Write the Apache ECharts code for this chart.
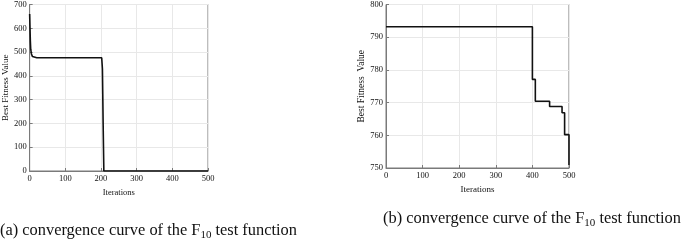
<!DOCTYPE html>
<html><head><meta charset="utf-8">
<script src="https://cdn.jsdelivr.net/npm/echarts@6/dist/echarts.min.js"></script>
<style>html,body{margin:0;padding:0;background:#fff}#c{width:685px;height:241px}</style>
</head><body><div id="c"></div>
<script>
// Left chart (a)
var leftIter = [0, 1, 2, 3, 5, 8, 12, 20, 202, 204, 205, 206, 208, 500];
var leftFit  = [660, 600, 545, 512, 492, 481, 477, 476, 476, 430, 320, 200, 0, 0];
// Right chart (b) - step curve
var rightIter = [0, 400, 408, 447, 481, 488, 500];
var rightFit  = [793.2, 777.1, 770.4, 768.8, 766.9, 760.2, 750.9];
// Axis ticks
var leftXTicks = [0, 100, 200, 300, 400, 500];
var leftYTicks = [0, 100, 200, 300, 400, 500, 600, 700];
var rightYTicks = [750, 760, 770, 780, 790, 800];
var xName = 'Iterations';
var yName = 'Best Fitness Value';
var yNameRight = 'Best Fitness  Value';

function pairs(a, b) { return a.map(function (v, i) { return [v, b[i]]; }); }

var FONT = '"Liberation Serif", "Times New Roman", serif';
var axisCommon = {
  type: 'value',
  axisLine: { show: true, lineStyle: { color: '#7a7a7a', width: 1 } },
  axisTick: { show: true, inside: true, length: 3, lineStyle: { color: '#7a7a7a' } },
  splitLine: { show: true, lineStyle: { color: '#e8e8e8', width: 1 } },
  axisLabel: { fontFamily: FONT, fontSize: 8.5, color: '#111', margin: 3 },
  nameTextStyle: { fontFamily: FONT, color: '#111' }
};
function ax(extra) { return Object.assign({}, JSON.parse(JSON.stringify(axisCommon)), extra); }

var chart = echarts.init(document.getElementById('c'));
var sub = function (fs) {
  return { m: { fontFamily: FONT, fontSize: fs, fill: '#111', lineHeight: 19 },
           s: { fontFamily: FONT, fontSize: 11, fill: '#111', lineHeight: 19, verticalAlign: 'bottom' } };
};
chart.setOption({
  animation: false,
  grid: [
    { left: 21, top: 3, width: 187, height: 168, show: true, borderColor: '#7a7a7a', borderWidth: 1 },
    { left: 386, top: 3, width: 183, height: 165, show: true, borderColor: '#7a7a7a', borderWidth: 1 }
  ],
  xAxis: [
    ax({ gridIndex: 0, min: 0, max: 500, interval: 100, name: xName, nameLocation: 'middle', nameGap: 13,
         nameTextStyle: { fontFamily: FONT, fontSize: 8.5, color: '#111' } }),
    ax({ gridIndex: 1, min: 0, max: 500, interval: 100, name: xName, nameLocation: 'middle', nameGap: 16,
         nameTextStyle: { fontFamily: FONT, fontSize: 9, color: '#111' } })
  ],
  yAxis: [
    ax({ gridIndex: 0, min: 0, max: 700, interval: 100, name: yName, nameLocation: 'middle', nameGap: 14,
         nameTextStyle: { fontFamily: FONT, fontSize: 9, color: '#111' } }),
    ax({ gridIndex: 1, min: 750, max: 800, interval: 10, name: yNameRight, nameLocation: 'middle', nameGap: 18,
         nameTextStyle: { fontFamily: FONT, fontSize: 9.5, color: '#111' } })
  ],
  series: [
    { type: 'line', xAxisIndex: 0, yAxisIndex: 0, data: pairs(leftIter, leftFit), showSymbol: false,
      lineStyle: { color: '#111', width: 1.6 } },
    { type: 'line', xAxisIndex: 1, yAxisIndex: 1, data: pairs(rightIter, rightFit), showSymbol: false,
      step: 'end', lineStyle: { color: '#111', width: 1.6 } }
  ],
  graphic: [
    { type: 'text', left: 0, top: 223, style: {
        text: '{m|(a) convergence curve of the F}{s|10}{m| test function}', rich: sub(16.4) } },
    { type: 'text', left: 383, top: 211, style: {
        text: '{m|(b) convergence curve of the F}{s|10}{m| test function}', rich: sub(16.4) } }
  ]
});
</script></body></html>
